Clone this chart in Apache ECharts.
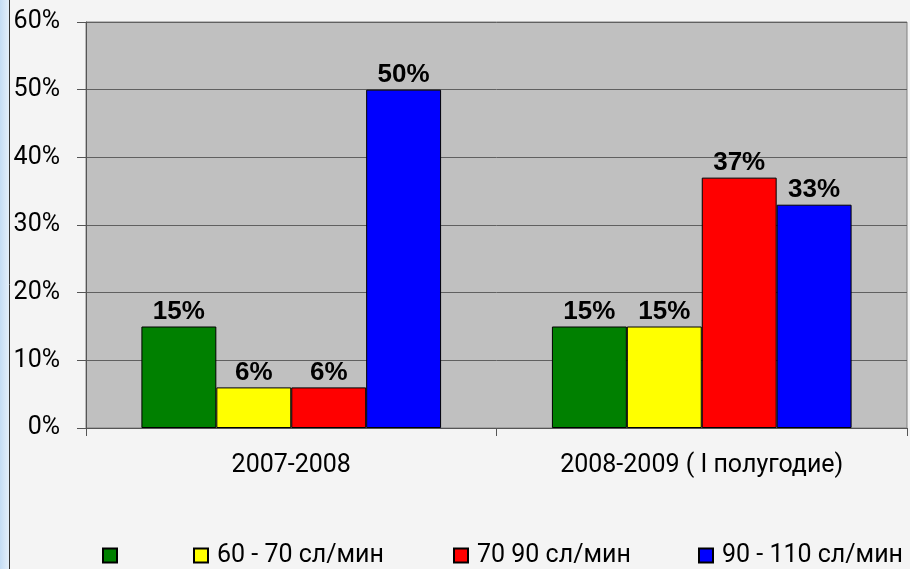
<!DOCTYPE html>
<html>
<head>
<meta charset="utf-8">
<script src="https://cdn.jsdelivr.net/npm/echarts@6/dist/echarts.min.js"></script>
<style>
html,body{margin:0;padding:0;background:#f4f4f4;}
#main{width:910px;height:569px;}
</style>
</head>
<body>
<div id="main"></div>
<script>
var categories = ['2007-2008', '2008-2009 ( I полугодие)'];
var seriesNames = [' ', '60 - 70 сл/мин', '70 90 сл/мин', '90 - 110 сл/мин'];
var greenValues = [15, 15];
var yellowValues = [6, 15];
var redValues = [6, 37];
var blueValues = [50, 33];
var yTicks = [0, 10, 20, 30, 40, 50, 60];

var colors = ['#008000', '#ffff00', '#ff0000', '#0000ff'];
var valueSets = [greenValues, yellowValues, redValues, blueValues];
var font = 'Roboto, "Liberation Sans", sans-serif';

var chart = echarts.init(document.getElementById('main'));

var series = valueSets.map(function (vals, i) {
  return {
    name: seriesNames[i],
    type: 'bar',
    data: vals,
    barGap: '0%',
    barCategoryGap: '27%',
    itemStyle: { color: colors[i], borderColor: '#000', borderWidth: 1 },
    label: {
      show: true,
      position: 'top',
      distance: 2,
      formatter: '{c}%',
      color: '#000',
      fontSize: 26,
      fontWeight: 'bold',
      fontFamily: '"Liberation Sans", Arial, sans-serif'
    }
  };
});

var legendLefts = [102, 193, 453, 698];
var legends = seriesNames.map(function (n, i) {
  return {
    data: [n],
    left: legendLefts[i],
    top: 543,
    padding: 0,
    itemWidth: 14,
    itemHeight: 14,
    icon: 'rect',
    selectedMode: false,
    textStyle: { color: '#000', fontSize: 25, fontFamily: font, padding: [0, 0, 0, 4] }
  };
});

chart.setOption({
  backgroundColor: '#f4f4f4',
  animation: false,
  graphic: [
    {
      type: 'rect',
      shape: { x: 0, y: 0, width: 9, height: 569 },
      style: {
        fill: new echarts.graphic.LinearGradient(0, 0, 1, 0, [
          { offset: 0, color: '#c4dcf4' },
          { offset: 1, color: '#e4effa' }
        ])
      },
      silent: true
    },
    {
      type: 'line',
      shape: { x1: 9.5, y1: 0, x2: 9.5, y2: 569 },
      style: { stroke: '#333', lineWidth: 1 },
      silent: true
    }
  ],
  grid: {
    left: 86, right: 3, top: 22, bottom: 141,
    show: true,
    backgroundColor: '#c0c0c0',
    borderColor: '#808080',
    borderWidth: 1
  },
  legend: legends,
  xAxis: {
    type: 'category',
    data: categories,
    axisLine: { lineStyle: { color: '#555', width: 1 } },
    axisTick: { show: true, length: 8, lineStyle: { color: '#555' } },
    axisLabel: { color: '#000', fontSize: 25, fontFamily: font, margin: 25 }
  },
  yAxis: {
    type: 'value',
    min: yTicks[0],
    max: yTicks[yTicks.length - 1],
    interval: 10,
    axisLine: { show: true, lineStyle: { color: '#555', width: 1 } },
    axisTick: { show: true, length: 9, lineStyle: { color: '#555' } },
    axisLabel: { color: '#000', fontSize: 25, fontFamily: font, margin: 26, formatter: '{value}%' },
    splitLine: { show: true, lineStyle: { color: '#606060', width: 1 } }
  },
  series: series
});
</script>
</body>
</html>
